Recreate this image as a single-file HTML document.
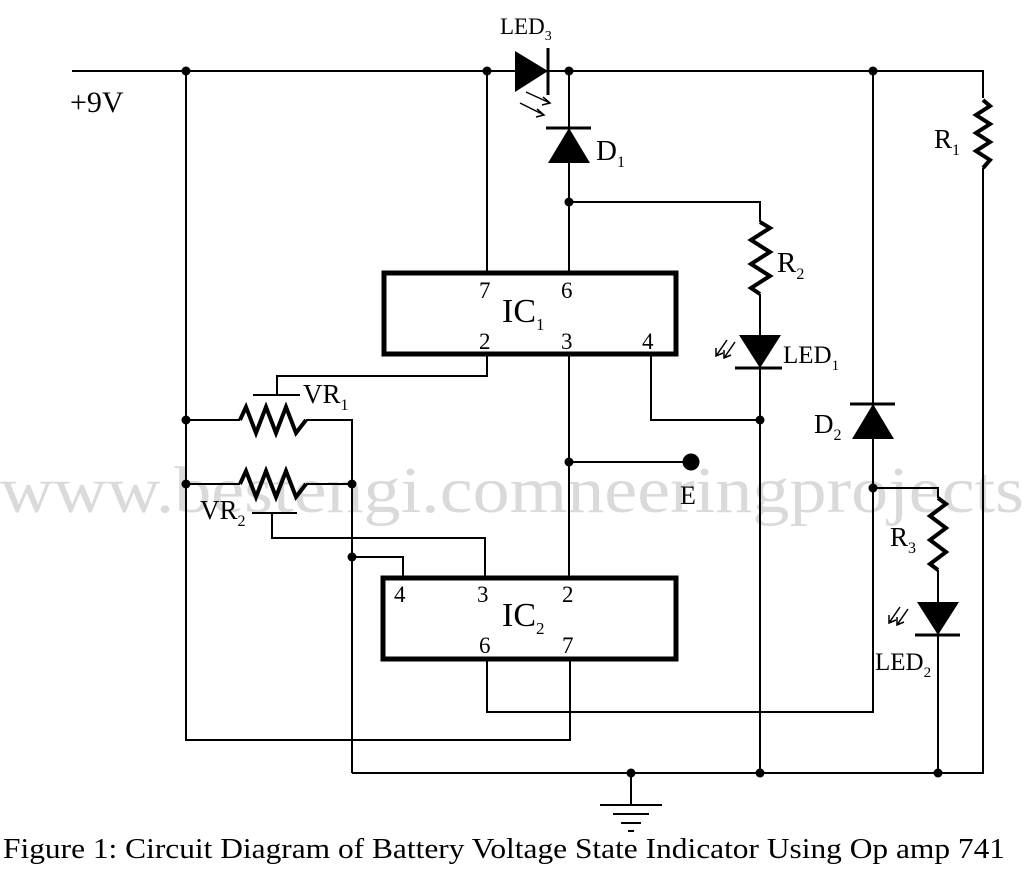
<!DOCTYPE html>
<html><head><meta charset="utf-8"><style>
html,body{margin:0;padding:0;background:#fff;}
svg{display:block;font-family:"Liberation Serif",serif;}
</style></head><body>
<svg width="1024" height="874" viewBox="0 0 1024 874" xmlns="http://www.w3.org/2000/svg">
<text x="0" y="512" font-size="66" fill="#dadada" textLength="1024" lengthAdjust="spacingAndGlyphs">www.bestengi.comneeringprojects</text>
<g stroke="#000" stroke-width="2" fill="none">
<polyline points="72,71 515,71"/>
<polyline points="548,71 983,71 983,98"/>
<polyline points="983,100 990,106 976,115 990,124 976,133 990,142 976,151 990,160 983,168" stroke-width="4"/>
<polyline points="983,168 983,773 352,773"/>
<polyline points="186,71 186,740 570,740 570,660"/>
<line x1="487" y1="71" x2="487" y2="272"/>
<line x1="569" y1="71" x2="569" y2="128"/>
<line x1="569" y1="163" x2="569" y2="272"/>
<polyline points="569,202 760,202 760,222"/>
<polyline points="760,222 770,228 751,240 770,252 751,264 770,276 751,288 760,294" stroke-width="4"/>
<line x1="760" y1="294" x2="760" y2="773"/>
<polyline points="487,355 487,376 277,376 277,395"/>
<line x1="253" y1="395" x2="300" y2="395"/>
<polyline points="186,420 240,420"/>
<polyline points="240,420 246,407 256,433 266,407 276,433 286,407 296,433 306,420" stroke-width="4"/>
<polyline points="306,420 352,420 352,773"/>
<polyline points="186,484 240,484"/>
<polyline points="240,484 246,471 256,497 266,471 276,497 286,471 296,497 306,484" stroke-width="4"/>
<line x1="306" y1="484" x2="352" y2="484"/>
<line x1="252" y1="513" x2="297" y2="513"/>
<polyline points="272,513 272,538 485,538 485,577"/>
<polyline points="352,557 403,557 403,577"/>
<line x1="569" y1="355" x2="569" y2="577"/>
<line x1="569" y1="462" x2="691" y2="462"/>
<polyline points="651,355 651,420 760,420"/>
<polyline points="487,660 487,712 873,712 873,71"/>
<polyline points="873,488 938,488 938,498"/>
<polyline points="938,498 946,504 930,516 946,528 930,540 946,552 930,564 938,570" stroke-width="4"/>
<line x1="938" y1="570" x2="938" y2="773"/>
<line x1="631" y1="773" x2="631" y2="805"/>
<line x1="600" y1="805" x2="662" y2="805"/>
<line x1="613" y1="814" x2="649" y2="814"/>
<line x1="621" y1="823" x2="641" y2="823"/>
<line x1="628" y1="831" x2="634" y2="831"/>
<rect x="384" y="273" width="292" height="81" stroke-width="5"/>
<rect x="383" y="578" width="293" height="81" stroke-width="5"/>
<line x1="548" y1="48" x2="548" y2="95" stroke-width="3"/>
<line x1="546" y1="128" x2="591" y2="128" stroke-width="3"/>
<line x1="735" y1="368" x2="782" y2="368" stroke-width="3"/>
<line x1="850" y1="404" x2="895" y2="404" stroke-width="3"/>
<line x1="915" y1="635" x2="960" y2="635" stroke-width="3"/>
<g stroke-width="1.5">
<path d="M526,92 L550,103 M543,97 L550,103 L542,105"/>
<path d="M520,103 L544,115 M537,109 L544,115 L536,117"/>
<path d="M735,342 L724,358 M724,350 L724,358 L731,355"/>
<path d="M727,340 L716,356 M716,348 L716,356 L723,353"/>
<path d="M908,609 L897,625 M897,617 L897,625 L904,622"/>
<path d="M900,607 L889,623 M889,615 L889,623 L896,620"/>
</g>
</g>
<g fill="#000">
<polygon points="515,51 515,92 548,71"/>
<polygon points="569,128 548,163 590,163"/>
<polygon points="739,335 781,335 760,368"/>
<polygon points="873,404 852,439 894,439"/>
<polygon points="917,602 959,602 938,635"/>
<circle cx="186" cy="71" r="4.5"/><circle cx="487" cy="71" r="4.5"/><circle cx="569" cy="71" r="4.5"/><circle cx="873" cy="71" r="4.5"/>
<circle cx="569" cy="202" r="4.5"/><circle cx="186" cy="420" r="4.5"/><circle cx="186" cy="484" r="4.5"/><circle cx="352" cy="484" r="4.5"/>
<circle cx="352" cy="557" r="4.5"/><circle cx="569" cy="462" r="4.5"/><circle cx="691" cy="462" r="8.5"/><circle cx="760" cy="420" r="4.5"/>
<circle cx="873" cy="488" r="4.5"/><circle cx="631" cy="773" r="4.5"/><circle cx="760" cy="773" r="4.5"/><circle cx="938" cy="773" r="4.5"/>
</g>
<g fill="#000" font-size="25">
<text x="70" y="112" font-size="30">+9V</text>
<text x="500" y="34" font-size="23">LED<tspan font-size="14" dy="6">3</tspan></text>
<text x="596" y="160" font-size="29">D<tspan font-size="16" dy="7">1</tspan></text>
<text x="777" y="272" font-size="29">R<tspan font-size="16" dy="7">2</tspan></text>
<text x="783" y="363">LED<tspan font-size="15" dy="7">1</tspan></text>
<text x="934" y="148" font-size="27">R<tspan font-size="16" dy="7">1</tspan></text>
<text x="303" y="403" font-size="27">VR<tspan font-size="16" dy="7">1</tspan></text>
<text x="200" y="519" font-size="27">VR<tspan font-size="16" dy="7">2</tspan></text>
<text x="814" y="433" font-size="27">D<tspan font-size="16" dy="7">2</tspan></text>
<text x="680" y="504" font-size="26">E</text>
<text x="890" y="546" font-size="27">R<tspan font-size="16" dy="7">3</tspan></text>
<text x="875" y="670">LED<tspan font-size="15" dy="7">2</tspan></text>
<text x="479" y="298" font-size="23">7</text><text x="561" y="298" font-size="23">6</text>
<text x="479" y="349" font-size="23">2</text><text x="561" y="349" font-size="23">3</text><text x="642" y="349" font-size="23">4</text>
<text x="394" y="602" font-size="23">4</text><text x="477" y="602" font-size="23">3</text><text x="562" y="602" font-size="23">2</text>
<text x="479" y="653" font-size="23">6</text><text x="562" y="653" font-size="23">7</text>
<text x="502" y="322" font-size="34">IC<tspan font-size="17" dy="8">1</tspan></text>
<text x="502" y="626" font-size="34">IC<tspan font-size="17" dy="8">2</tspan></text>
<text x="3" y="858" font-size="28" textLength="1002" lengthAdjust="spacingAndGlyphs">Figure 1: Circuit Diagram of Battery Voltage State Indicator Using Op amp 741</text>
</g>
</svg>
</body></html>
